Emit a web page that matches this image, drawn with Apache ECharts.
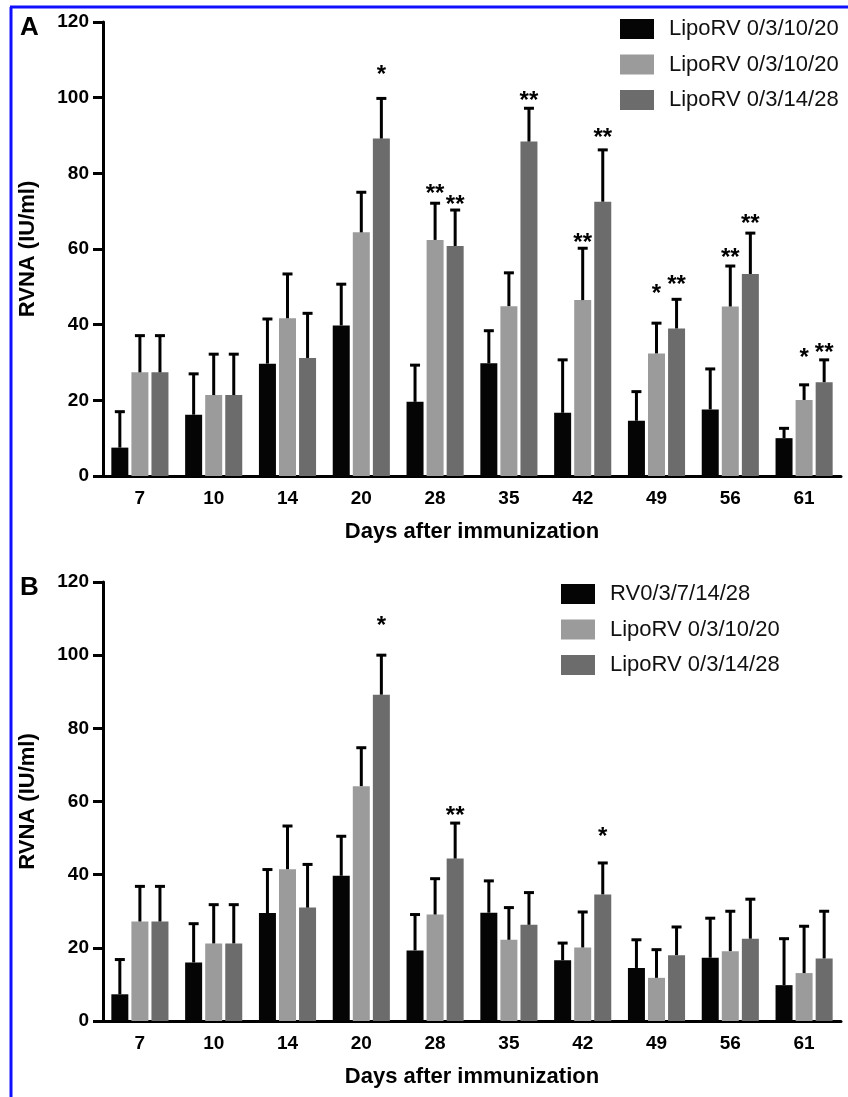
<!DOCTYPE html>
<html>
<head>
<meta charset="utf-8">
<script src="https://cdn.jsdelivr.net/npm/echarts@6/dist/echarts.min.js"></script>
<style>
  html, body { margin: 0; padding: 0; background: #fff; }
  #chart { width: 848px; height: 1097px; }
</style>
</head>
<body>
<div id="chart"></div>
<script>
// days after immunization (x categories)
const days = ['7', '10', '14', '20', '28', '35', '42', '49', '56', '61']
const namesA = ['LipoRV 0/3/10/20', 'LipoRV 0/3/10/20', 'LipoRV 0/3/14/28']
const namesB = ['RV0/3/7/14/28', 'LipoRV 0/3/10/20', 'LipoRV 0/3/14/28']

// panel A: means and SD
const meanA0 = [7.5, 16.2, 29.7, 39.8, 19.6, 29.8, 16.7, 14.6, 17.6, 10.0]
const sdA0 = [9.5, 10.8, 11.8, 10.9, 9.7, 8.6, 14.0, 7.7, 10.7, 2.6]
const meanA1 = [27.4, 21.4, 41.7, 64.4, 62.4, 44.9, 46.5, 32.4, 44.8, 20.1]
const sdA1 = [9.7, 10.8, 11.7, 10.6, 9.7, 8.8, 13.7, 8.0, 10.7, 4.0]
const meanA2 = [27.4, 21.4, 31.2, 89.2, 60.8, 88.4, 72.5, 39.0, 53.4, 24.8]
const sdA2 = [9.7, 10.8, 11.8, 10.6, 9.5, 8.8, 13.7, 7.7, 10.8, 5.9]

// panel B: means and SD
const meanB0 = [7.3, 16.0, 29.5, 39.7, 19.3, 29.6, 16.6, 14.5, 17.3, 9.8]
const sdB0 = [9.5, 10.6, 11.9, 10.8, 9.8, 8.7, 4.7, 7.7, 10.8, 12.7]
const meanB1 = [27.2, 21.2, 41.5, 64.2, 29.1, 22.2, 20.1, 11.8, 19.1, 13.1]
const sdB1 = [9.6, 10.6, 11.8, 10.5, 9.8, 8.8, 9.7, 7.7, 10.9, 12.8]
const meanB2 = [27.2, 21.2, 31.0, 89.2, 44.4, 26.3, 34.6, 18.0, 22.5, 17.1]
const sdB2 = [9.6, 10.6, 11.8, 10.8, 9.7, 8.8, 8.6, 7.7, 10.8, 12.9]

// significance marks: [day index, group index, height, text]
const starsA = [
  [3, 2, 107.6, '*'], [4, 1, 76.1, '**'], [4, 2, 73.2, '**'], [5, 2, 100.7, '**'],
  [6, 1, 63.2, '**'], [6, 2, 90.9, '**'], [7, 1, 49.7, '*'], [7, 2, 52.1, '**'],
  [8, 1, 59.0, '**'], [8, 2, 68.2, '**'], [9, 1, 32.8, '*'], [9, 2, 34.1, '**']
]
const starsB = [[3, 2, 109.5, '*'], [4, 2, 57.6, '**'], [6, 2, 51.7, '*']]

const colors = ['#050505', '#9b9b9b', '#6c6c6c']
const font = "'Liberation Sans', Arial, Helvetica, sans-serif"
const barW = 17
const barStep = barW * 1.18

const chart = echarts.init(document.getElementById('chart'))

function makeAxes (grid) {
  const x = {
    type: 'category',
    gridIndex: grid,
    data: days,
    name: 'Days after immunization',
    nameLocation: 'middle',
    nameGap: 45,
    nameTextStyle: { fontSize: 22, fontWeight: 'bold', color: '#000', fontFamily: font },
    axisLine: { lineStyle: { color: '#000', width: 3 } },
    axisTick: { alignWithLabel: true, length: 10, lineStyle: { width: 3, color: '#000' } },
    axisLabel: { fontSize: 19, fontWeight: 'bold', color: '#000', margin: 13, fontFamily: font },
    splitLine: { show: false }
  }
  const y = {
    type: 'value',
    gridIndex: grid,
    min: 0,
    max: 120,
    interval: 20,
    name: 'RVNA (IU/ml)',
    nameLocation: 'middle',
    nameGap: 64,
    nameTextStyle: { fontSize: 22, fontWeight: 'bold', color: '#000', fontFamily: font },
    axisLine: { show: true, lineStyle: { color: '#000', width: 3 } },
    axisTick: { show: true, length: 10, lineStyle: { width: 3, color: '#000' } },
    axisLabel: { fontSize: 19, fontWeight: 'bold', color: '#000', margin: 14, fontFamily: font },
    splitLine: { show: false }
  }
  return [x, y]
}

function barSeries (grid, panel, name, idx, data) {
  return {
    type: 'bar',
    name: panel + '|' + name + '|' + idx,
    xAxisIndex: grid,
    yAxisIndex: grid,
    data: data,
    barWidth: barW,
    barGap: '18%',
    itemStyle: { color: colors[idx] },
    z: 2
  }
}

function errSeries (grid, idx, means, sds) {
  return {
    type: 'custom',
    xAxisIndex: grid,
    yAxisIndex: grid,
    data: means.map((m, i) => [i, m, m + sds[i]]),
    z: 3,
    silent: true,
    renderItem: (params, api) => {
      const base = api.coord([api.value(0), api.value(1)])
      const top = api.coord([api.value(0), api.value(2)])
      const x = base[0] + (idx - 1) * barStep
      return {
        type: 'group',
        children: [
          { type: 'line', shape: { x1: x, y1: base[1], x2: x, y2: top[1] }, style: { stroke: '#000', lineWidth: 3 } },
          { type: 'line', shape: { x1: x - 5, y1: top[1], x2: x + 5, y2: top[1] }, style: { stroke: '#000', lineWidth: 3 } }
        ]
      }
    }
  }
}

function starSeries (grid, stars) {
  return {
    type: 'custom',
    xAxisIndex: grid,
    yAxisIndex: grid,
    data: stars,
    z: 4,
    silent: true,
    renderItem: (params, api) => {
      const s = stars[params.dataIndex]
      const p = api.coord([s[0], s[2]])
      return {
        type: 'text',
        x: p[0] + (s[1] - 1) * barStep,
        y: p[1] + 6,
        style: { text: s[3], fontSize: 24, fontWeight: 'bold', fill: '#000', align: 'center', verticalAlign: 'middle', fontFamily: font }
      }
    }
  }
}

const axA = makeAxes(0)
const axB = makeAxes(1)

const legendBase = {
  orient: 'vertical',
  icon: 'rect',
  itemWidth: 34,
  itemHeight: 20,
  itemGap: 13.5,
  padding: 0,
  selectedMode: false,
  formatter: n => n.split('|')[1],
  textStyle: { fontSize: 22, color: '#111', fontFamily: font, lineHeight: 20, padding: [0, 0, 0, 10] }
}

const option = {
  animation: false,
  backgroundColor: '#fff',
  grid: [
    { left: 103, right: 7, top: 22, height: 454 },
    { left: 103, right: 7, top: 582, height: 439 }
  ],
  xAxis: [axA[0], axB[0]],
  yAxis: [axA[1], axB[1]],
  legend: [
    Object.assign({}, legendBase, { left: 620, top: 18, data: namesA.map((n, i) => 'A|' + n + '|' + i) }),
    Object.assign({}, legendBase, { left: 561, top: 583, data: namesB.map((n, i) => 'B|' + n + '|' + i) })
  ],
  graphic: [
    { type: 'line', shape: { x1: 11, y1: 7, x2: 11, y2: 1097 }, style: { stroke: '#1010ff', lineWidth: 3 } },
    { type: 'line', shape: { x1: 10, y1: 7, x2: 848, y2: 7 }, style: { stroke: '#1010ff', lineWidth: 3 } },
    { type: 'text', left: 20, top: 15, style: { text: 'A', fill: '#000', font: 'bold 26px ' + font } },
    { type: 'text', left: 20, top: 575, style: { text: 'B', fill: '#000', font: 'bold 26px ' + font } }
  ],
  series: [
    barSeries(0, 'A', namesA[0], 0, meanA0),
    barSeries(0, 'A', namesA[1], 1, meanA1),
    barSeries(0, 'A', namesA[2], 2, meanA2),
    errSeries(0, 0, meanA0, sdA0),
    errSeries(0, 1, meanA1, sdA1),
    errSeries(0, 2, meanA2, sdA2),
    starSeries(0, starsA),
    barSeries(1, 'B', namesB[0], 0, meanB0),
    barSeries(1, 'B', namesB[1], 1, meanB1),
    barSeries(1, 'B', namesB[2], 2, meanB2),
    errSeries(1, 0, meanB0, sdB0),
    errSeries(1, 1, meanB1, sdB1),
    errSeries(1, 2, meanB2, sdB2),
    starSeries(1, starsB)
  ]
}

chart.setOption(option)
</script>
</body>
</html>
